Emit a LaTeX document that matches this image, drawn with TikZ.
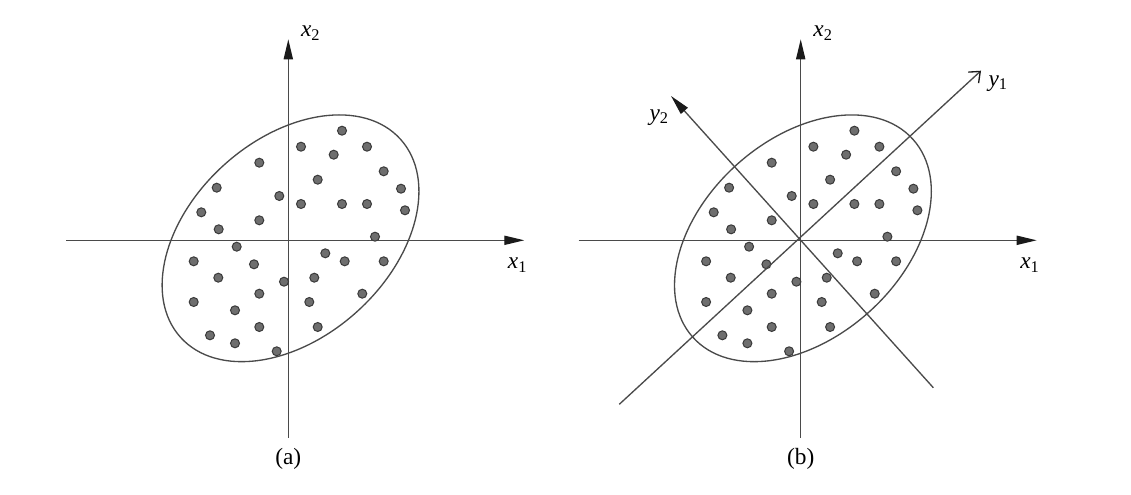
\documentclass[tikz,border=0pt]{standalone}
\usepackage{fontspec}
\setmainfont{Liberation Serif}
\usepackage{tikz}
\usetikzlibrary{arrows.meta}

\definecolor{axisgray}{HTML}{4A4A4A}
\definecolor{tipblack}{HTML}{1A1A1A}
\definecolor{dotfill}{HTML}{6E6E6E}
\definecolor{dotline}{HTML}{3A3A3A}

% sample points, relative to the origin of each panel (y down)
\newcommand\samplepts{53.7/-109.6, 12.7/-93.6, 78.7/-93.6, 45.4/-85.6, -29/-77.6,
  95.4/-69, 29.4/-60.6, -71.6/-52.6, 112.7/-51.6, -9/-44.3, 12.7/-36.3, 53.7/-36.3,
  78.7/-36.3, 116.7/-30, -87/-28, -29/-20, -69.6/-11, 86.7/-3.6, -51.6/6.4, 37/13,
  -94.6/21, 56.4/21, 95.4/21, -34.3/24, -70/37.4, 26/37.4, -4.3/41.4, -29/53.4,
  74/53.4, -94.6/61.7, 21/61.7, -53.3/70, -29/86.7, 29.4/86.7, -78.3/95,
  -53.3/103, -11.6/111}
\newcommand\axlab[2]{\textit{#1}\textsubscript{#2}}

\begin{document}
\begin{tikzpicture}[
  x=0.6pt, y=-0.6pt,
  font=\fontsize{14}{16}\selectfont,
  axis/.style={draw=axisgray, line width=0.8pt},
  arr/.style={axis, -{Triangle[length=12pt,width=5.5pt,color=tipblack]}},
  barb/.style={axis, -{Straight Barb[length=5.5pt,width=9pt,color=tipblack]}},
  cloud/.style={draw=axisgray, line width=0.8pt},
  sample/.style={circle, draw=dotline, fill=dotfill, line width=0.6pt, inner sep=0pt, minimum size=5.4pt},
  lbl/.style={inner sep=0pt}
]
\useasboundingbox (0,0) rectangle (1131,495);

\foreach \p/\ox in {a/288.3, b/800.7} {
  \coordinate (\p-o) at (\ox,240.3);
  \coordinate (\p-w) at ([shift={(-222,0)}]\p-o);
  \coordinate (\p-e) at ([shift={(236,0)}]\p-o);
  \coordinate (\p-s) at ([shift={(0,197.4)}]\p-o);
  \coordinate (\p-n) at ([shift={(0,-201)}]\p-o);

  \draw[cloud, rotate around={42:(\p-o)}] ([shift={(3,0)}]\p-o) ellipse [x radius=148, y radius=99];
  \draw[arr] (\p-w) -- (\p-e);
  \draw[arr] (\p-s) -- (\p-n);

  \node[lbl] (\p-x1) at ([shift={(229.3,24.7)}]\p-o) {\axlab{x}{1}};
  \node[lbl] (\p-x2) at ([shift={(22.4,-207)}]\p-o) {\axlab{x}{2}};
  \node[lbl] (\p-cap) at ([shift={(0,218.4)}]\p-o) {(\p)};

  \foreach \dx/\dy [count=\k] in \samplepts
    \node[sample] (\p-dot\k) at ([shift={(\dx,\dy)}]\p-o) {};
}

% rotated axes of panel (b)
\coordinate (y1-s) at ([shift={(-181.4,164)}]b-o);
\coordinate (y1-n) at ([shift={(180.3,-169.6)}]b-o);
\coordinate (y2-s) at ([shift={(132.6,147.4)}]b-o);
\coordinate (y2-n) at ([shift={(-129.7,-144.3)}]b-o);
\draw[barb] (y1-s) -- (y1-n);
\draw[arr] (y2-s) -- (y2-n);
\node[lbl] (y1) at ([shift={(197.6,-157)}]b-o) {\axlab{y}{1}};
\node[lbl] (y2) at ([shift={(-141.4,-123)}]b-o) {\axlab{y}{2}};
\end{tikzpicture}
\end{document}
